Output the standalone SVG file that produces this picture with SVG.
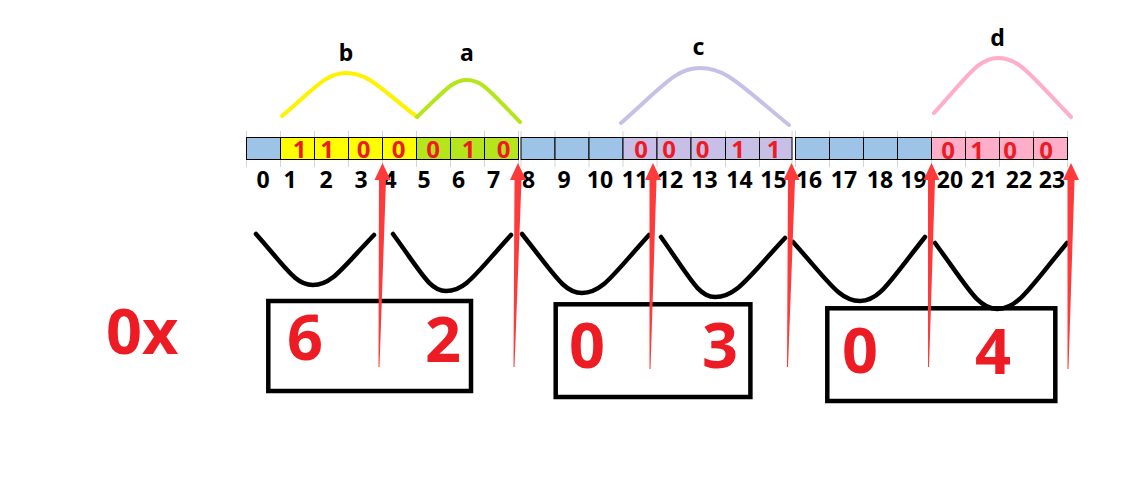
<svg xmlns="http://www.w3.org/2000/svg" width="1128" height="481" viewBox="0 0 1128 481">
<defs>
<style>
.tick{stroke:#d4d4d4;stroke-width:1}
.cell{stroke:#000;stroke-width:1}
.bl{fill:#9dc3e6}.ye{fill:#ffff00}.gr{fill:#b5e61d}.lv{fill:#c8bfe7}.pk{fill:#ffaec9}
.bit{font-family:"Noto Sans","Liberation Sans",sans-serif;font-weight:bold;font-size:24px;fill:#ed1c24;text-anchor:middle}
.idx{font-family:"Noto Sans","Liberation Sans",sans-serif;font-weight:bold;font-size:23px;fill:#000;text-anchor:middle}
.lbl{font-family:"Noto Sans","Liberation Sans",sans-serif;font-weight:bold;font-size:23px;fill:#000;text-anchor:middle}
.big{font-family:"Noto Sans","Liberation Sans",sans-serif;font-weight:bold;font-size:63px;fill:#ed1c24;text-anchor:middle}
.hump{fill:none;stroke-width:4;stroke-linecap:round}
.vee{fill:none;stroke:#000;stroke-width:4.5;stroke-linecap:round}
.box{fill:none;stroke:#000;stroke-width:4.5}
.arrow{fill:#ff3a3a}
</style>
</defs>
<rect width="1128" height="481" fill="#fff"/>

<g id="ticks">
<path class="tick" d="M246.5 131V167M280.5 131V167M314.5 131V167M348.5 131V167M382.5 131V167M416.5 131V167M450.5 131V167M484.5 131V167M518.5 131V167M521 131V167M555 131V167M589 131V167M623 131V167M657 131V167M691 131V167M725.5 131V167M759.5 131V167M792 131V167M795.5 131V167M829.5 131V167M863.5 131V167M897.5 131V167M931.5 131V167M965.5 131V167M999.5 131V167M1033.5 131V167M1067.5 131V167"/>
</g>

<g id="bits-a">
<rect class="cell bl" x="246.5" y="137.5" width="34" height="22"/>
<rect class="cell ye" x="280.5" y="137.5" width="34" height="22"/>
<rect class="cell ye" x="314.5" y="137.5" width="34" height="22"/>
<rect class="cell ye" x="348.5" y="137.5" width="34" height="22"/>
<rect class="cell ye" x="382.5" y="137.5" width="34" height="22"/>
<rect class="cell gr" x="416.5" y="137.5" width="34" height="22"/>
<rect class="cell gr" x="450.5" y="137.5" width="34" height="22"/>
<rect class="cell gr" x="484.5" y="137.5" width="34" height="22"/>
</g>
<g id="bits-b">
<rect class="cell bl" x="521" y="137.5" width="34" height="22"/>
<rect class="cell bl" x="555" y="137.5" width="34" height="22"/>
<rect class="cell bl" x="589" y="137.5" width="34" height="22"/>
<rect class="cell lv" x="623" y="137.5" width="34" height="22"/>
<rect class="cell lv" x="657" y="137.5" width="34" height="22"/>
<rect class="cell lv" x="691" y="137.5" width="34.5" height="22"/>
<rect class="cell lv" x="725.5" y="137.5" width="34" height="22"/>
<rect class="cell lv" x="759.5" y="137.5" width="32.5" height="22"/>
</g>
<g id="bits-c">
<rect class="cell bl" x="795.5" y="137.5" width="34" height="22"/>
<rect class="cell bl" x="829.5" y="137.5" width="34" height="22"/>
<rect class="cell bl" x="863.5" y="137.5" width="34" height="22"/>
<rect class="cell bl" x="897.5" y="137.5" width="34" height="22"/>
<rect class="cell pk" x="931.5" y="137.5" width="34" height="22"/>
<rect class="cell pk" x="965.5" y="137.5" width="34" height="22"/>
<rect class="cell pk" x="999.5" y="137.5" width="34" height="22"/>
<rect class="cell pk" x="1033.5" y="137.5" width="34" height="22"/>
</g>

<g id="bit-values">
<text class="bit" x="299.5" y="157.5">1</text>
<text class="bit" x="327" y="157.5">1</text>
<text class="bit" x="363.5" y="157.5">0</text>
<text class="bit" x="398.5" y="157.5">0</text>
<text class="bit" x="433" y="157.5">0</text>
<text class="bit" x="468.5" y="157.5">1</text>
<text class="bit" x="503.5" y="157.5">0</text>
<text class="bit" x="641" y="157.5">0</text>
<text class="bit" x="669" y="157.5">0</text>
<text class="bit" x="702.5" y="157.5">0</text>
<text class="bit" x="738" y="157.5">1</text>
<text class="bit" x="773.5" y="157.5">1</text>
<text class="bit" x="948" y="158.5">0</text>
<text class="bit" x="977" y="158.5">1</text>
<text class="bit" x="1010" y="158.5">0</text>
<text class="bit" x="1046" y="158.5">0</text>
</g>

<g id="indices">
<text class="idx" x="263" y="188">0</text>
<text class="idx" x="290" y="188">1</text>
<text class="idx" x="326" y="188">2</text>
<text class="idx" x="361" y="188">3</text>
<text class="idx" x="390" y="188">4</text>
<text class="idx" x="424" y="188">5</text>
<text class="idx" x="458.5" y="188">6</text>
<text class="idx" x="493.5" y="188">7</text>
<text class="idx" x="528.5" y="188">8</text>
<text class="idx" x="564" y="188">9</text>
<text class="idx" x="600" y="188">10</text>
<text class="idx" x="635" y="188">11</text>
<text class="idx" x="670" y="188">12</text>
<text class="idx" x="704.5" y="188">13</text>
<text class="idx" x="739.5" y="188">14</text>
<text class="idx" x="773.5" y="188">15</text>
<text class="idx" x="809" y="188">16</text>
<text class="idx" x="844" y="188">17</text>
<text class="idx" x="880" y="188">18</text>
<text class="idx" x="913.5" y="188">19</text>
<text class="idx" x="950" y="188">20</text>
<text class="idx" x="984" y="188">21</text>
<text class="idx" x="1019" y="188">22</text>
<text class="idx" x="1052" y="188">23</text>
</g>

<g id="field-b">
<path class="hump" stroke="#fff200" d="M282 116C317.2 85.9 326.8 73 346 73C367.3 73 378 86.2 417 117"/>
<text class="lbl" x="346" y="60.5">b</text>
</g>
<g id="field-a">
<path class="hump" stroke="#b5e61d" d="M417 117C444.5 91.1 452 80 467 80C482.9 80 490.9 92.6 520 122"/>
<text class="lbl" x="467" y="60.5">a</text>
</g>
<g id="field-c">
<path class="hump" stroke="#c8bfe7" d="M621 123C664.5 84.5 676.3 68 700 68C726.7 68 740 85.1 789 125"/>
<text class="lbl" x="698.5" y="54.5">c</text>
</g>
<g id="field-d">
<path class="hump" stroke="#ffaec9" d="M934 113C969.2 74.5 978.8 58 998 58C1019.9 58 1030.9 75.7 1071 117"/>
<text class="lbl" x="997.5" y="45.5">d</text>
</g>

<g id="nibble-braces">
<path class="vee" d="M256 234C287.4 269.7 295.9 285 313 285C331.3 285 340.5 270 374 235"/>
<path class="vee" d="M393 234C422.2 273.9 430.1 291 446 291C465.5 291 475.3 274.2 511 235"/>
<path class="vee" d="M522 234C555 275.3 564 293 582 293C602.1 293 612.2 275.6 649 235"/>
<path class="vee" d="M661 237C690.7 279 698.8 297 715 297C736 297 746.5 279.3 785 238"/>
<path class="vee" d="M793 242C829.9 283.3 839.9 301 860 301C879.5 301 889.3 281.8 925 237"/>
<path class="vee" d="M935 243C969.1 289.2 978.4 309 997 309C1018 309 1028.5 289.2 1067 243"/>
</g>

<g id="prefix">
<text class="big" x="106" y="354" style="text-anchor:start">0x</text>
</g>
<g id="byte-1">
<rect class="box" x="268.3" y="301" width="202.7" height="90"/>
<text class="big" x="305" y="360">6</text>
<text class="big" x="443" y="361.5">2</text>
</g>
<g id="byte-2">
<rect class="box" x="555.7" y="304.3" width="194.7" height="92.7"/>
<text class="big" x="587" y="368">0</text>
<text class="big" x="720" y="368">3</text>
</g>
<g id="byte-3">
<rect class="box" x="827.3" y="308.3" width="228" height="92.7"/>
<text class="big" x="860" y="372.5">0</text>
<text class="big" x="993" y="374">4</text>
</g>

<g id="connectors">
<polygon class="arrow" points="382.5,163 390.5,180 386,180 379.5,367 378.5,367 379,180 374.5,180"/>
<polygon class="arrow" points="518,163 526,180 521.5,180 514.5,367 513.5,367 514.5,180 510,180"/>
<polygon class="arrow" points="653,163 661,180 656.5,180 650.5,369 649.5,369 649.5,180 645,180"/>
<polygon class="arrow" points="791.5,163 799.5,180 795,180 788,367 787,367 788,180 783.5,180"/>
<polygon class="arrow" points="931.5,163 939.5,180 935,180 929,367 928,367 928,180 923.5,180"/>
<polygon class="arrow" points="1071,163 1079,180 1074.5,180 1068.5,369 1067.5,369 1067.5,180 1063,180"/>
</g>
</svg>
